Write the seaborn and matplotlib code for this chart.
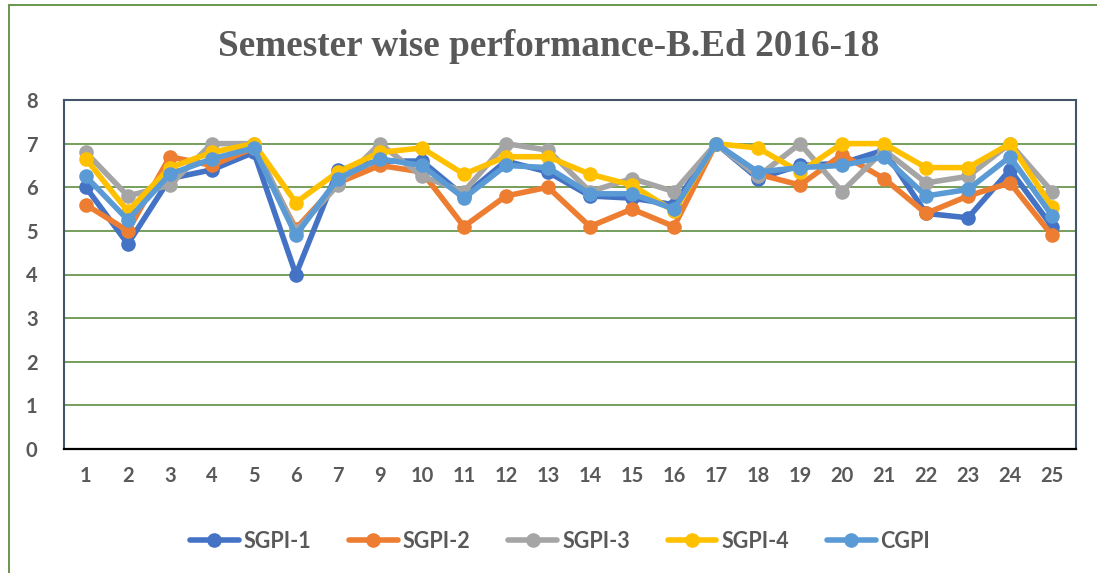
import pandas as pd
import matplotlib
matplotlib.use("Agg")
import matplotlib.pyplot as plt
from matplotlib.lines import Line2D
import seaborn as sns

# ---------------------------
# data
# ---------------------------
semesters = ["1", "2", "3", "4", "5", "6", "7", "9", "10", "11", "12", "13",
             "14", "15", "16", "17", "18", "19", "20", "21", "22", "23", "24", "25"]

sgpi1 = [6.0, 4.7, 6.2, 6.4, 6.8, 4.0, 6.4, 6.6, 6.6, 5.8, 6.6, 6.35,
         5.8, 5.75, 5.6, 7.0, 6.2, 6.5, 6.55, 6.85, 5.4, 5.3, 6.4, 5.1]
sgpi2 = [5.6, 5.0, 6.7, 6.5, 6.9, 5.05, 6.1, 6.5, 6.35, 5.1, 5.8, 6.0,
         5.1, 5.5, 5.1, 7.0, 6.3, 6.05, 6.75, 6.2, 5.4, 5.8, 6.1, 4.9]
sgpi3 = [6.8, 5.8, 6.05, 7.0, 7.0, 5.0, 6.05, 7.0, 6.25, 5.9, 7.0, 6.85,
         5.9, 6.2, 5.9, 7.0, 6.25, 7.0, 5.9, 6.85, 6.1, 6.25, 7.0, 5.9]
sgpi4 = [6.65, 5.45, 6.45, 6.8, 7.0, 5.65, 6.35, 6.8, 6.9, 6.3, 6.7, 6.7,
         6.3, 6.05, 5.45, 7.0, 6.9, 6.35, 7.0, 7.0, 6.45, 6.45, 7.0, 5.55]
cgpi = [6.25, 5.25, 6.3, 6.65, 6.9, 4.9, 6.2, 6.65, 6.5, 5.75, 6.5, 6.45,
        5.85, 5.85, 5.5, 7.0, 6.35, 6.45, 6.5, 6.7, 5.8, 5.95, 6.7, 5.35]

series_names = ["SGPI-1", "SGPI-2", "SGPI-3", "SGPI-4", "CGPI"]
series_values = [sgpi1, sgpi2, sgpi3, sgpi4, cgpi]
colors = ["#4472C4", "#ED7D31", "#A5A5A5", "#FFC000", "#5B9BD5"]

df = pd.concat(
    [pd.DataFrame({"Semester": semesters, "Score": vals, "Series": name})
     for name, vals in zip(series_names, series_values)],
    ignore_index=True,
)

# ---------------------------
# figure
# ---------------------------
sns.set_theme(style="white")
plt.rcParams["font.family"] = ["Lato", "DejaVu Sans"]

fig = plt.figure(figsize=(10.97, 5.73), dpi=100)
ax = fig.add_axes([64 / 1097, 1 - 449 / 573, 1012 / 1097, 349 / 573])

sns.lineplot(data=df, x="Semester", y="Score", hue="Series",
             hue_order=series_names, palette=colors, sort=False,
             estimator=None, marker="o", markersize=10.5, markeredgewidth=0,
             linewidth=4.0, ax=ax)

ax.set_ylim(0, 8)
ax.set_yticks(range(0, 9))
ax.set_xlim(-0.52, 23.57)
ax.set_xlabel("")
ax.set_ylabel("")

ax.yaxis.grid(True, color="#5E8E3E", linewidth=1.2)
ax.set_axisbelow(True)
for side in ["left", "top", "right"]:
    ax.spines[side].set_color("#44546A")
    ax.spines[side].set_linewidth(1.5)
ax.spines["bottom"].set_color("black")
ax.spines["bottom"].set_linewidth(1.6)

ax.tick_params(axis="both", length=0, labelsize=14.5, labelcolor="#595959")
ax.tick_params(axis="y", pad=19)
ax.tick_params(axis="x", pad=12)
for lab in ax.get_xticklabels() + ax.get_yticklabels():
    lab.set_fontweight("bold")

# title
fig.text(0.5, 1 - 47 / 573, "Semester wise performance-B.Ed 2016-18",
         ha="center", va="center", fontsize=26.8, fontweight="bold",
         family="Liberation Serif", color="#595959")

# legend below the plot
handles, labels = ax.get_legend_handles_labels()
ax.legend(handles, labels, loc="center", bbox_to_anchor=(560 / 1097, 1 - 541 / 573),
          bbox_transform=fig.transFigure, ncol=5, frameon=False,
          handlelength=2.27, handletextpad=0.23, columnspacing=1.75,
          prop={"weight": "bold", "size": 15.5})
for t in ax.get_legend().get_texts():
    t.set_color("#595959")

# outer chart border (green)
fig.add_artist(Line2D([9 / 1097, 9 / 1097], [0, 1 - 5 / 573],
                      transform=fig.transFigure, color="#5E8E3E", linewidth=1.3))
fig.add_artist(Line2D([9 / 1097, 1], [1 - 5 / 573, 1 - 5 / 573],
                      transform=fig.transFigure, color="#5E8E3E", linewidth=1.3))

fig.savefig("out.png", dpi=100)
